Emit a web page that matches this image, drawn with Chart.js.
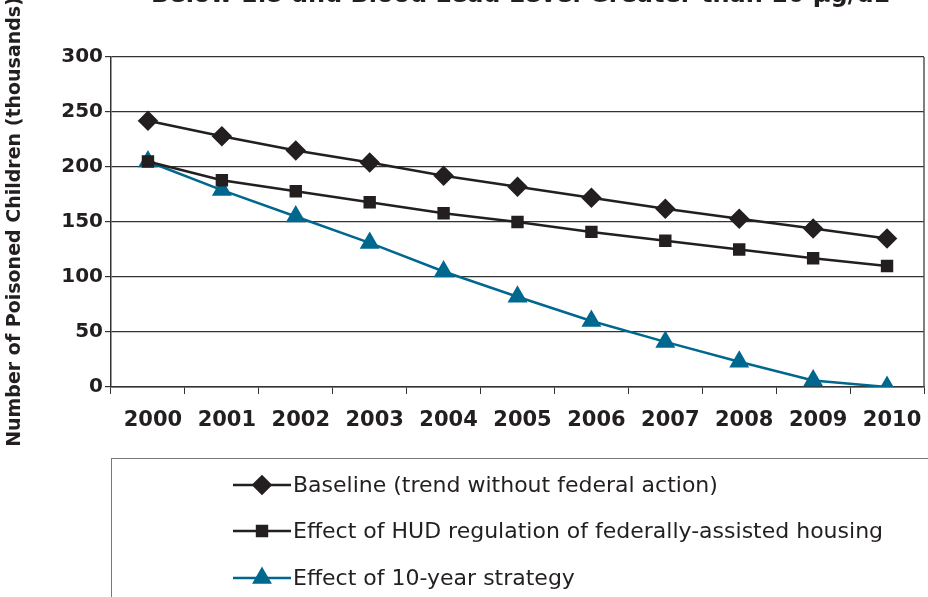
<!DOCTYPE html>
<html>
<head>
<meta charset="utf-8">
<script src="https://cdn.jsdelivr.net/npm/chart.js@4/dist/chart.umd.min.js"></script>
<style>
  body { margin: 0; background: #fff; }
  canvas { display: block; }
</style>
</head>
<body>
<canvas id="leadChart" width="928" height="597"></canvas>
<script>
// data (thousands of children)
const years = ['2000', '2001', '2002', '2003', '2004', '2005', '2006', '2007', '2008', '2009', '2010'];
const baseline = [242, 228, 215, 204, 192, 182, 172, 162, 153, 144, 135];
const hudEffect = [205, 188, 178, 168, 158, 150, 141, 133, 125, 117, 110];
const strategyEffect = [205, 179, 155, 131, 105, 82, 60, 41, 23, 6, 0];
const seriesNames = [
    'Baseline (trend without federal action)',
    'Effect of HUD regulation of federally-assisted housing',
    'Effect of 10-year strategy'
];
const titleText = 'Below 1.5 and Blood Lead Level Greater than 10 \u00b5g/dL';

const dark = '#231f20';
const blue = '#00688f';

// title is cut off at the top of the picture
const clippedTitle = {
    id: 'clippedTitle',
    afterDraw(chart) {
        const ctx = chart.ctx;
        ctx.save();
        ctx.font = 'bold 24px "DejaVu Sans"';
        ctx.fillStyle = dark;
        ctx.textAlign = 'center';
        ctx.textBaseline = 'alphabetic';
        ctx.fillText(titleText, 520, 2);
        ctx.restore();
    }
};

// boxed legend below the axis, line + marker for each series
const boxLegend = {
    id: 'boxLegend',
    afterDraw(chart) {
        const ctx = chart.ctx;
        const area = chart.chartArea;
        ctx.save();
        // right border of the plot
        ctx.strokeStyle = '#555';
        ctx.lineWidth = 1.5;
        ctx.beginPath();
        ctx.moveTo(area.right, area.top);
        ctx.lineTo(area.right, area.bottom);
        ctx.stroke();

        ctx.strokeStyle = '#777';
        ctx.lineWidth = 1;
        ctx.strokeRect(111.5, 458.5, 900, 200);

        const rows = [485, 531, 578];
        chart.data.datasets.forEach((ds, i) => {
            const y = rows[i];
            ctx.strokeStyle = ds.borderColor;
            ctx.lineWidth = 2.5;
            ctx.beginPath();
            ctx.moveTo(233, y);
            ctx.lineTo(291, y);
            ctx.stroke();
            ctx.fillStyle = ds.pointBackgroundColor;
            ctx.strokeStyle = ds.pointBorderColor;
            Chart.helpers.drawPoint(ctx, {
                pointStyle: ds.pointStyle,
                radius: ds.pointRadius,
                borderWidth: 1,
                rotation: 0
            }, 262, y);
            ctx.fillStyle = dark;
            ctx.font = '22px "DejaVu Sans"';
            ctx.textAlign = 'left';
            ctx.textBaseline = 'middle';
            ctx.fillText(ds.label, 293, y + 1);
        });
        ctx.restore();
    }
};

new Chart(document.getElementById('leadChart'), {
    type: 'line',
    data: {
        labels: years,
        datasets: [
            {
                label: seriesNames[0], data: baseline,
                borderColor: dark, borderWidth: 2.5,
                pointStyle: 'rectRot', pointRadius: 8.5,
                pointBackgroundColor: dark, pointBorderColor: dark
            },
            {
                label: seriesNames[1], data: hudEffect,
                borderColor: dark, borderWidth: 2.5,
                pointStyle: 'rect', pointRadius: 7,
                pointBackgroundColor: dark, pointBorderColor: dark
            },
            {
                label: seriesNames[2], data: strategyEffect,
                borderColor: blue, borderWidth: 2.5,
                pointStyle: 'triangle', pointRadius: 9,
                pointBackgroundColor: blue, pointBorderColor: blue
            }
        ]
    },
    options: {
        responsive: false,
        animation: false,
        layout: { autoPadding: false, padding: { top: 57, right: 4, left: 0, bottom: 0 } },
        plugins: {
            legend: { display: false },
            title: { display: false },
            tooltip: { enabled: false }
        },
        elements: { line: { tension: 0 } },
        scales: {
            x: {
                offset: true,
                afterFit(scale) {
                    scale.height = 210;
                    scale.paddingRight = 0;
                    scale.paddingLeft = 0;
                },
                grid: {
                    offset: true,
                    drawOnChartArea: false,
                    color: '#333',
                    tickLength: 7
                },
                border: { color: '#333', width: 1.5 },
                ticks: {
                    color: dark,
                    padding: 14,
                    labelOffset: 5,
                    maxRotation: 0,
                    font: { family: 'DejaVu Sans', weight: 'bold', size: 21 }
                }
            },
            y: {
                min: 0,
                max: 300,
                afterFit(scale) { scale.width = 111; },
                grid: { color: '#333', lineWidth: 1.2, tickLength: 6 },
                border: { color: '#333', width: 1.5 },
                ticks: {
                    stepSize: 50,
                    color: dark,
                    padding: 2,
                    font: { family: 'DejaVu Sans', weight: 'bold', size: 20 }
                },
                title: {
                    display: true,
                    text: 'Number of Poisoned Children (thousands)',
                    color: dark,
                    padding: { top: 4, bottom: 0 },
                    font: { family: 'DejaVu Sans', weight: 'bold', size: 19 }
                }
            }
        }
    },
    plugins: [clippedTitle, boxLegend]
});
</script>
</body>
</html>
